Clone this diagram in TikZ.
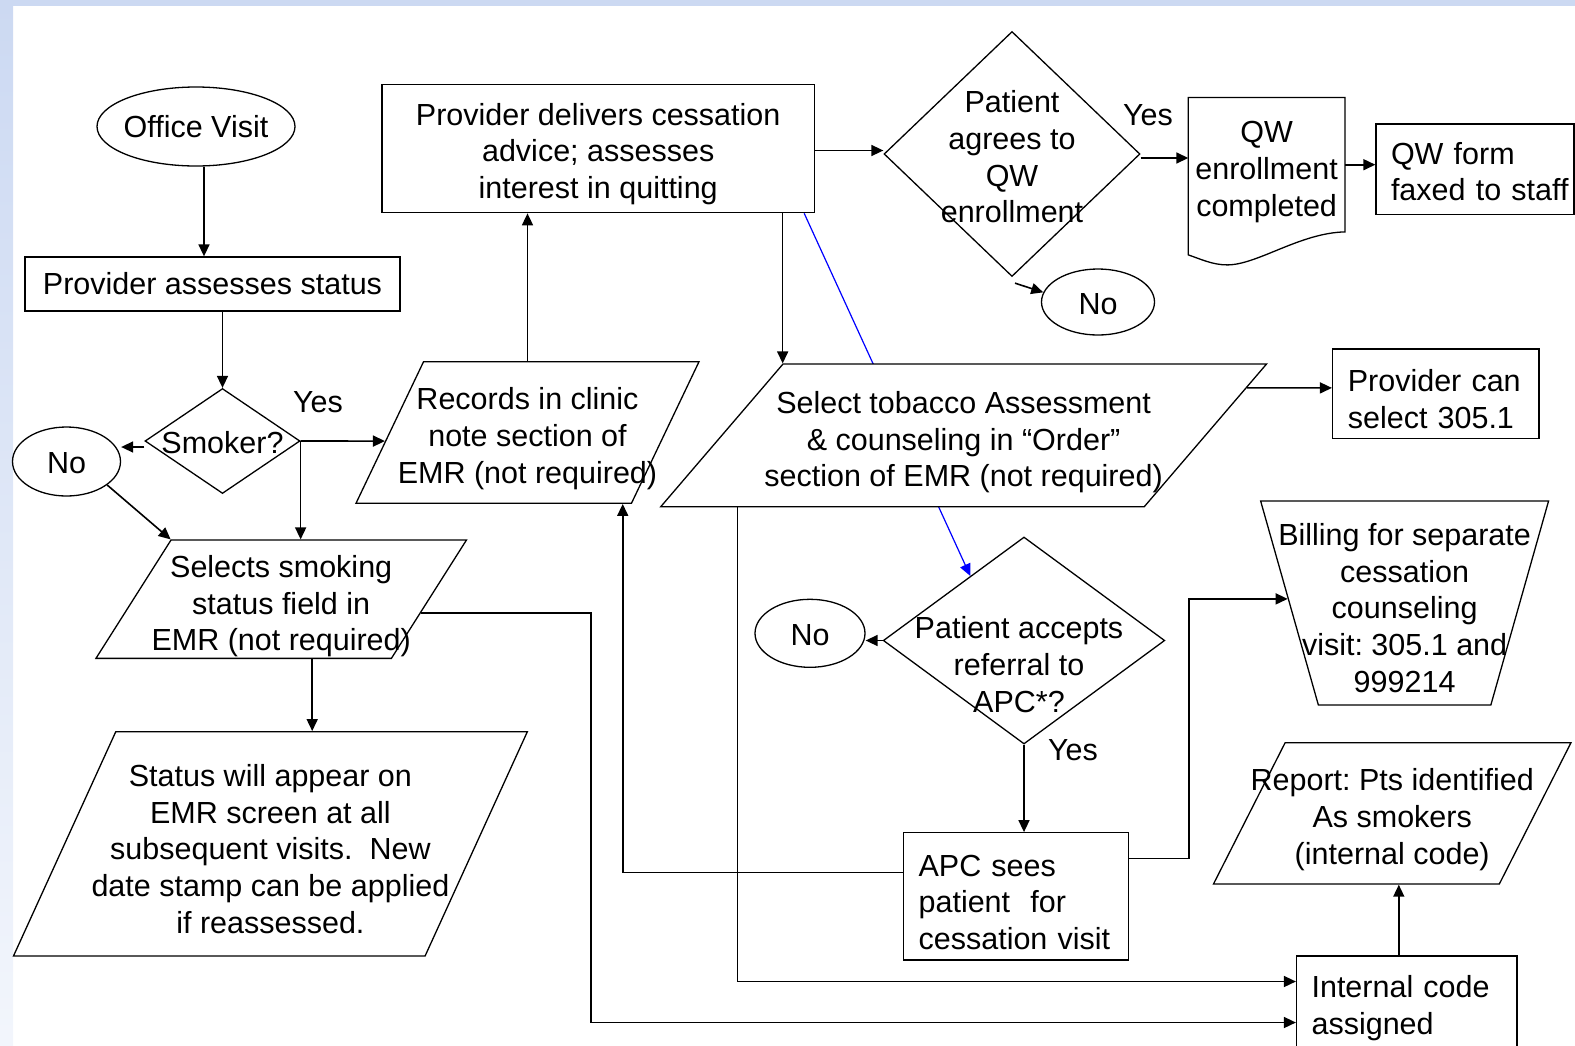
\documentclass[tikz,border=0pt]{standalone}
\usepackage{fontspec}
\setmainfont{Liberation Sans}
\usetikzlibrary{shapes.geometric, arrows.meta, calc, backgrounds}

\definecolor{slideblue}{RGB}{204,217,242}
\definecolor{linkblue}{RGB}{0,0,255}
\newcommand{\flowfont}{\fontsize{30.5}{36.7}\selectfont\frenchspacing}
\newcommand{\lift}{\rule{0pt}{33pt}}

\begin{document}
\begin{tikzpicture}[x=1pt, y=-1pt,
		base/.style={draw, line width=1.3pt, fill=white, font=\flowfont},
		proc/.style={base, rectangle, align=center, inner sep=0pt},
		note/.style={base, rectangle, align=left, inner xsep=15pt, inner ysep=0pt, text width=#1},
		io/.style 2 args={base, trapezium, trapezium left angle=#1, trapezium right angle=#2, trapezium stretches=true, inner sep=2pt},
		choice/.style={base, diamond, inner sep=0pt},
		term/.style={base, ellipse, inner sep=0pt},
		txt/.style={font=\flowfont, align=center},
		arr/.style={-{Triangle[length=12pt, width=11pt]}, line width=1.6pt}]
		\useasboundingbox (0,0) rectangle (1575,1045);
		\fill[slideblue] (0,0) rectangle (1575,6);
		\shade[top color=slideblue, bottom color=slideblue!25] (0,0) rectangle (13,1045);

		\node[term, minimum width=198pt, minimum height=79pt, label={[txt]center:Office Visit}] (visit) at (196,126.5) {};
		\node[proc, minimum width=375pt, minimum height=54pt] (assess) at (212.5,284) {Provider assesses status};
		\node[choice, minimum width=155pt, minimum height=105pt, label={[txt, yshift=-2pt]center:Smoker?}] (smoker) at (222.5,441) {};
		\node[term, minimum width=108pt, minimum height=69pt, label={[txt, yshift=-2pt]center:No}] (nosmoke) at (66.5,461.5) {};
		\node[io={72.0}{108.0}, minimum width=343pt, minimum height=141.6pt, label={[txt, yshift=-6pt]center:{Records in clinic\\note section of\\EMR (not required)}}] (records) at (527.5,432.5) {};
		\node[io={71.2}{108.8}, minimum width=370.5pt, minimum height=118.3pt, label={[txt, yshift=-7pt]center:{Selects smoking\\status field in\\EMR (not required)}}] (selects) at (281.2,599.2) {};
		\node[io={71.7}{108.3}, minimum width=514pt, minimum height=224.3pt, label={[txt, yshift=-5pt]center:{Status will appear on\\EMR screen at all\\subsequent visits.\ \ New\\date stamp can be applied\\if reassessed.}}] (status) at (270.4,843.9) {};

		\node[proc, minimum width=432.3pt, minimum height=128.4pt] (deliver) at (598.2,148.5) {\lift Provider delivers cessation\\advice; assesses\\interest in quitting};
		\node[choice, minimum width=256pt, minimum height=245pt, label={[txt, yshift=-3pt]center:{Patient\\agrees to\\QW\\enrollment}}] (agrees) at (1012,154) {};
		\node[font=\flowfont, align=center, inner sep=0pt, minimum width=156.2pt, minimum height=134pt] (qwdoc) at (1266.6,164.7) {\rule{0pt}{36pt}QW\\enrollment\\completed};
		\node[note=168pt, minimum width=198pt, minimum height=90.3pt] (qwform) at (1475,169.2) {\rule{0pt}{27pt}QW form\\\mbox{faxed to staff}};
		\node[term, minimum width=113pt, minimum height=66pt, label={[txt, yshift=-2pt]center:No}] (noqw) at (1098,302) {};

		\node[io={71.3}{108.7}, minimum width=606pt, minimum height=142.7pt, label={[txt, yshift=-7pt]center:{Select tobacco Assessment\\\& counseling in “Order”\\section of EMR (not required)}}] (tobacco) at (963.6,435.4) {};
		\node[note=176pt, minimum width=206.4pt, minimum height=89.7pt] (canselect) at (1435.8,393.9) {\lift Provider can\\select 305.1};
		\node[choice, minimum width=281.5pt, minimum height=207pt, label={[txt, xshift=-5pt, yshift=-24pt]center:{Patient accepts\\referral to\\APC*?}}] (accepts) at (1024,640.5) {};
		\node[term, minimum width=110pt, minimum height=68pt, label={[txt, yshift=-2pt]center:No}] (noref) at (810,633.3) {};
		\node[note=194.8pt, minimum width=224.8pt, minimum height=127.3pt] (apc) at (1016,896.4) {\lift APC sees\\patient\ \ for\\cessation visit};
		\node[io={108.5}{108.5}, minimum width=288pt, minimum height=204pt, label={[txt, yshift=-5pt]center:{Billing for separate\\cessation\\counseling\\visit: 305.1 and\\999214}}] (billing) at (1404.6,603) {};
		\node[io={71.5}{108.5}, minimum width=357.6pt, minimum height=141.3pt, label={[txt, yshift=-6pt]center:{Report: Pts identified\\As smokers\\(internal code)}}] (report) at (1392.2,813.4) {};
		\node[note=190.5pt, minimum width=220.5pt, minimum height=93pt] (internal) at (1406.8,1002.5) {\lift Internal code\\assigned};

		\node[font=\flowfont] (yes1) at (318,401.7) {Yes};
		\node[font=\flowfont] (yes2) at (1148,115) {Yes};
		\node[font=\flowfont] (yes3) at (1073,750) {Yes};

		\draw[line width=1.3pt] (qwdoc.south east) -- (qwdoc.north east) -- (qwdoc.north west) -- ($(qwdoc.south west)+(0,23)$)
			.. controls +(12,4) and +(-15,0) .. ($(qwdoc.south west)+(39,33)$)
			.. controls +(30,0) and +(-45,1) .. (qwdoc.south east) -- cycle;

		\draw[arr] ([xshift=8pt]visit.south) -- ($(visit.south |- assess.north)+(8,0)$);
		\draw[arr] (assess.south -| smoker.north) -- (smoker.north);
		\draw[arr] ([yshift=-6pt]smoker.west) -- ($(smoker.west -| nosmoke.east)+(0,6)$);
		\draw[arr] (smoker.east) -- ($(records.bottom left corner)!0.44!(records.top left corner)$);
		\draw[arr] (smoker.east) -- (smoker.east |- selects.north);
		\draw[arr] (nosmoke.-30) -- (selects.top left corner);
		\draw[arr] ($(selects.center |- selects.south)+(31,0)$) -- ($(selects.center |- status.north)+(31,0)$);
		\draw[arr] (records.center |- records.north) -- (records.center |- deliver.south);
		\draw[arr] ([yshift=-2pt]deliver.east) -- ($(deliver.east -| agrees.west)+(0,2)$);
		\draw[arr] ([yshift=-4pt]agrees.east) -- ($(agrees.east -| qwdoc.west)+(0,4)$);
		\draw[arr] (qwdoc.east) -- (qwdoc.east -| qwform.west);
		\draw[arr] ([shift={(3,6)}]agrees.south) -- (noqw.170);
		\draw[arr] (deliver.south -| tobacco.top left corner) -- (tobacco.top left corner);
		\draw[arr] ($(tobacco.top right corner)!0.17!(tobacco.bottom right corner)$) -- ([yshift=6pt]canselect.west);
		\draw[arr] (tobacco.bottom left corner) ++(78,0) |- ([yshift=21pt]internal.west);
		\draw[arr] ($(selects.bottom right corner)!0.385!(selects.top right corner)$) -- ++(170,0) |- ([yshift=-20pt]internal.west);
		\draw[arr] (accepts.west) -- (accepts.west -| noref.east);
		\draw[arr] (accepts.south) -- (accepts.south |- apc.north);
		\draw[arr] ([yshift=24pt]apc.west) -| ($(records.bottom left corner)!0.967!(records.bottom right corner)$);
		\draw[arr] ([yshift=38pt]apc.east) -- ++(60,0) |- ($(billing.top left corner)!0.48!(billing.bottom left corner)$);
		\draw[arr] ($(internal.north)+(-8,0)$) -- ($(internal.north |- report.south)+(-8,0)$);
		\begin{pgfonlayer}{background}
			\draw[arr, line width=1.2pt, linkblue] ([xshift=206pt]deliver.south) -- ($(accepts.west)!0.62!(accepts.north)$);
		\end{pgfonlayer}
	\end{tikzpicture}
\end{document}
